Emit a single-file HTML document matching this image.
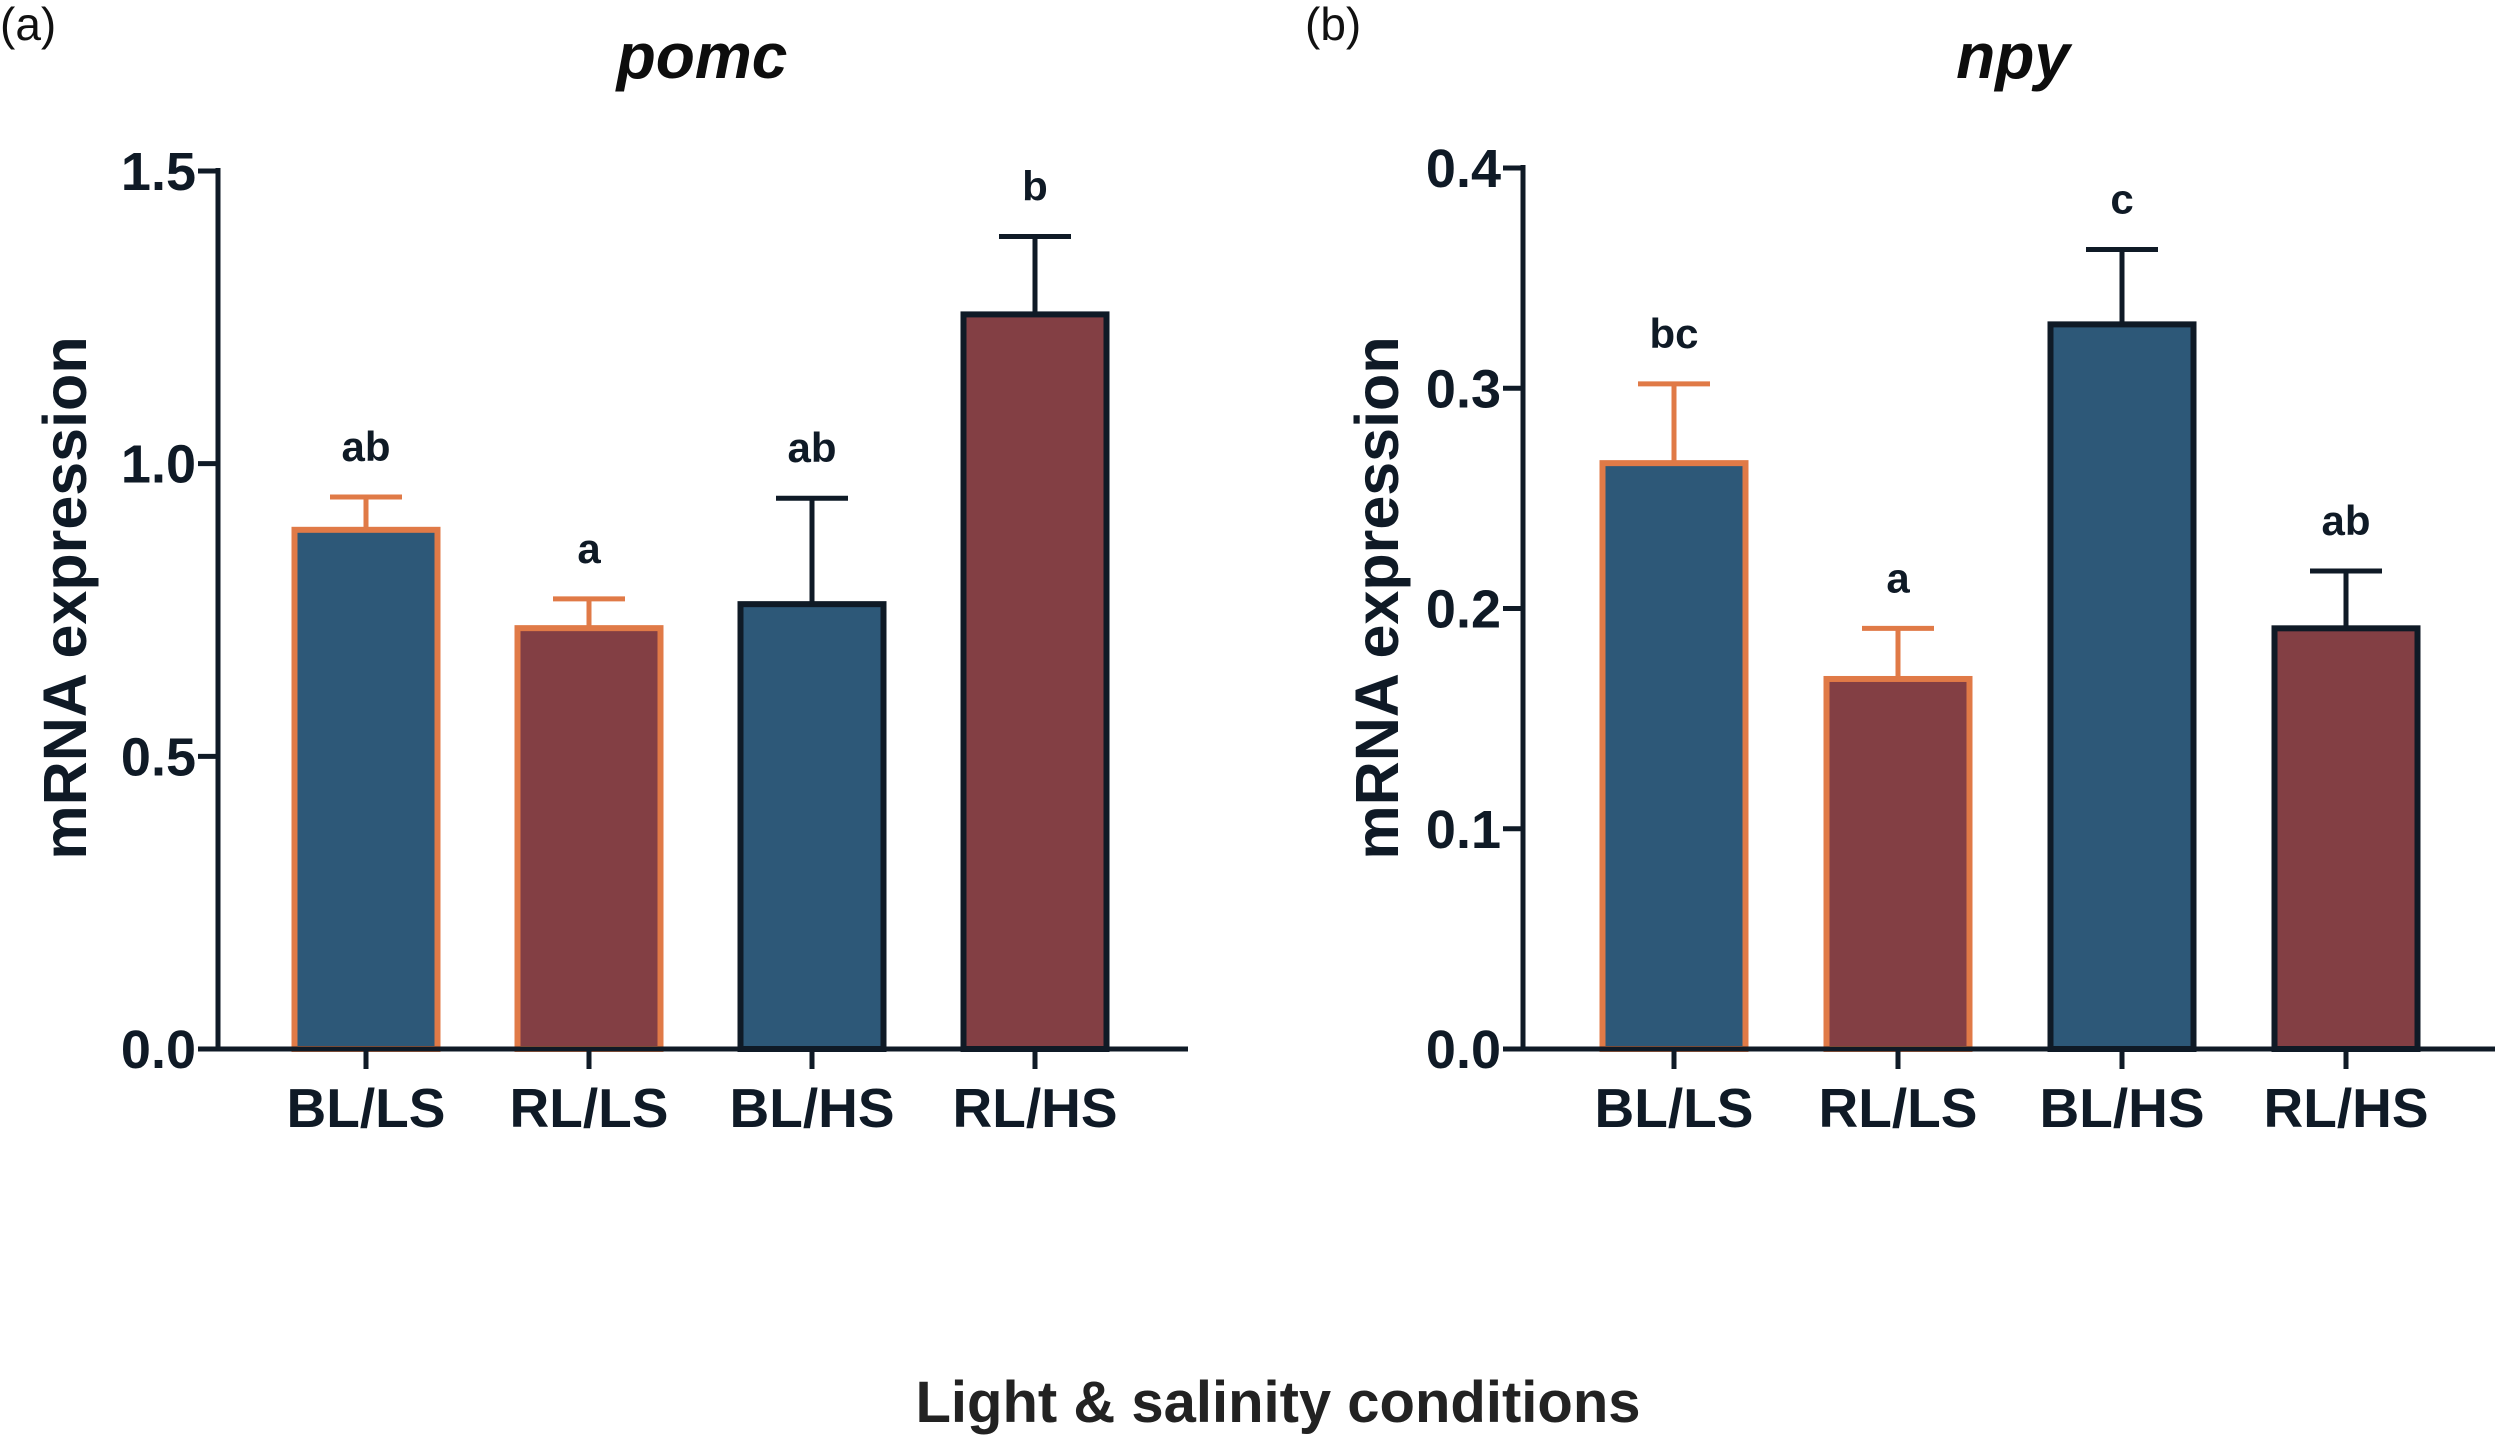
<!DOCTYPE html>
<html><head><meta charset="utf-8"><style>
html,body{margin:0;padding:0;background:#fff;}
svg{display:block;font-family:"Liberation Sans",Arial,sans-serif;}
</style></head><body>
<svg id="chart" width="2500" height="1437" viewBox="0 0 2500 1437" xmlns="http://www.w3.org/2000/svg">
<text x="0" y="40" font-size="46" fill="#111">(a)</text>
<text x="1305" y="40" font-size="46" fill="#111">(b)</text>
<text x="702" y="78" font-size="64" font-weight="bold" font-style="italic" text-anchor="middle" fill="#0d0d0d">pomc</text>
<text x="2013" y="78" font-size="64" font-weight="bold" font-style="italic" text-anchor="middle" fill="#0d0d0d">npy</text>
<text transform="translate(86,598) rotate(-90)" font-size="61" font-weight="bold" text-anchor="middle" fill="#0f1a26">mRNA expression</text>
<text transform="translate(1398,598) rotate(-90)" font-size="61" font-weight="bold" text-anchor="middle" fill="#0f1a26">mRNA expression</text>
<text x="1278" y="1422" font-size="58" font-weight="bold" text-anchor="middle" fill="#222">Light &amp; salinity conditions</text>
<g id="pa"></g><g id="pb"></g>
</svg>
<script>
const categories = ["BL/LS","RL/LS","BL/HS","RL/HS"];
const pomcValues = [0.887, 0.719, 0.760, 1.255];
const pomcErrors = [0.056, 0.050, 0.181, 0.133];
const pomcLetters = ["ab","a","ab","b"];
const pomcTicks = ["0.0","0.5","1.0","1.5"];
const npyValues = [0.266, 0.168, 0.329, 0.191];
const npyErrors = [0.036, 0.023, 0.034, 0.026];
const npyLetters = ["bc","a","c","ab"];
const npyTicks = ["0.0","0.1","0.2","0.3","0.4"];

const NS = "http://www.w3.org/2000/svg";
const fills = ["#2d5878","#833f44","#2d5878","#833f44"];
const strokes = ["#e07a47","#e07a47","#0f1a26","#0f1a26"];
function mk(parent, tag, attrs){
  const e = document.createElementNS(NS, tag);
  for (const k in attrs) e.setAttribute(k, attrs[k]);
  parent.appendChild(e); return e;
}
function panel(g, p, vals, errs, letters, ticks, yMax){
  const y = v => p.y0 - (v / yMax) * (p.y0 - p.yTop);
  const xc = i => p.x0 + p.first + i * p.step;
  const bw = 143;
  vals.forEach((v, i) => {
    const cx = xc(i);
    const et = y(v + errs[i]);
    const eb = mk(g, "line", {x1:cx, x2:cx, y1:y(v), y2:et, stroke:strokes[i], "stroke-width":5});
    
    
    const cap = mk(g, "line", {x1:cx-36, x2:cx+36, y1:et, y2:et, stroke:strokes[i], "stroke-width":5});
    
    
    const r = mk(g, "rect", {x:cx-bw/2, y:y(v), width:bw, height:p.y0-y(v), fill:fills[i], stroke:strokes[i], "stroke-width":6});
    
    
    const t = mk(g, "text", {x:cx, y:et-36, "font-size":42, "font-weight":"bold", "text-anchor":"middle", fill:"#0f1a26"});
    t.textContent = letters[i];
    
    
    const tk = mk(g, "line", {x1:cx, x2:cx, y1:p.y0, y2:p.y0+20, stroke:"#0f1a26", "stroke-width":5});
    
    
    const lb = mk(g, "text", {x:cx, y:p.y0+78, "font-size":55, "font-weight":"bold", "text-anchor":"middle", fill:"#0f1a26"});
    lb.textContent = categories[i];
    
    
  });
  ticks.forEach((s, i) => {
    const v = parseFloat(s), yy = y(v);
    const tk = mk(g, "line", {x1:p.x0-20, x2:p.x0, y1:yy, y2:yy, stroke:"#0f1a26", "stroke-width":5});
    
    
    const lb = mk(g, "text", {x:p.x0-22, y:yy+19, "font-size":54, "font-weight":"bold", "text-anchor":"end", fill:"#0f1a26"});
    lb.textContent = s;
    
    
  });
  const ya = mk(g, "line", {x1:p.x0, x2:p.x0, y1:p.yTop-3, y2:p.y0+2.5, stroke:"#0f1a26", "stroke-width":5});
  
  
  const xa = mk(g, "line", {x1:p.x0-20, x2:p.xEnd, y1:p.y0, y2:p.y0, stroke:"#0f1a26", "stroke-width":5});
  
  
}
panel(document.getElementById("pa"), {x0:218, y0:1049, yTop:171, xEnd:1188, first:148, step:223}, pomcValues, pomcErrors, pomcLetters, pomcTicks, 1.5);
panel(document.getElementById("pb"), {x0:1523, y0:1049, yTop:168, xEnd:2495, first:151, step:224}, npyValues, npyErrors, npyLetters, npyTicks, 0.4);
</script>
</body></html>
